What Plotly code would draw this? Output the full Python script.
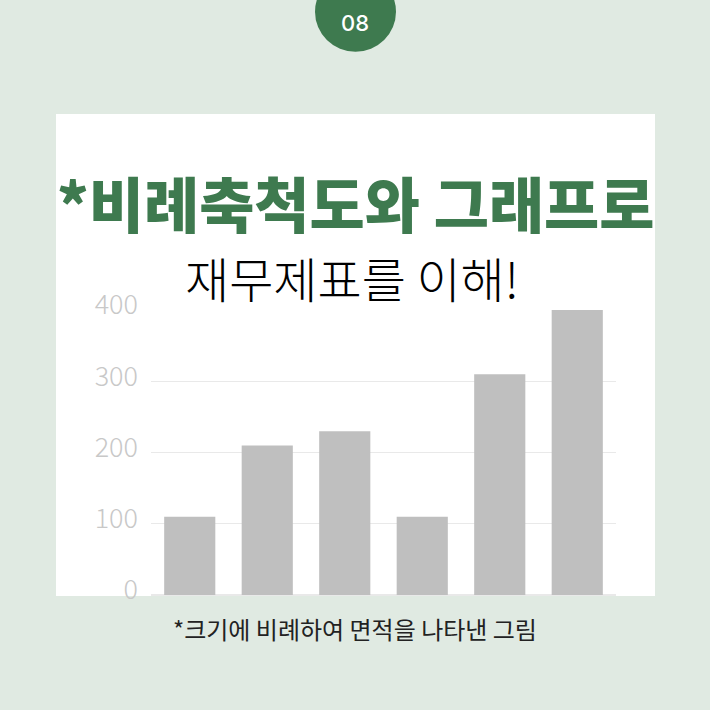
import plotly.graph_objects as go

# bar chart data
categories = ['1', '2', '3', '4', '5', '6']
values = [110, 210, 230, 110, 310, 400]
y_ticks = [0, 100, 200, 300, 400]

title_line1 = '*비례축척도와 그래프로'
title_line2 = '재무제표를 이해!'
caption = '*크기에 비례하여 면적을 나타낸 그림'
badge = '08'

BG = '#e0eae2'
GREEN = '#3e7a4f'
W = H = 710


def px_x(x):
    return x / W


def px_y(y):
    # pixel from top -> paper coordinate
    return (H - y) / H


fig = go.Figure(go.Bar(
    x=categories, y=values,
    marker=dict(color='#bfbfbf', line=dict(width=0)),
    hoverinfo='skip',
))

fig.update_layout(
    width=W, height=H,
    margin=dict(l=0, r=0, t=0, b=0),
    paper_bgcolor=BG,
    plot_bgcolor='rgba(0,0,0,0)',
    bargap=0.34,
    showlegend=False,
    xaxis=dict(domain=[px_x(151), px_x(616)], showticklabels=False, automargin=False,
               showgrid=False, zeroline=False, showline=False, ticks=''),
    yaxis=dict(domain=[px_y(595), px_y(310)], range=[0, 400], automargin=False,
               tickvals=y_ticks, showgrid=True, gridcolor='#e9e9e9', gridwidth=1,
               zeroline=True, zerolinecolor='#e9e9e9', showline=False, ticks='',
               ticklabelstandoff=12, ticklabelshift=-5,
               tickfont=dict(family='Noto Sans CJK KR', size=27, color='#c8c8c8', weight=300)),
)

# white panel and top badge
fig.add_shape(type='rect', xref='paper', yref='paper', layer='below',
              x0=px_x(56), x1=px_x(655), y0=px_y(596), y1=px_y(114),
              fillcolor='white', line=dict(width=0))
fig.add_shape(type='circle', xref='paper', yref='paper',
              x0=px_x(315), x1=px_x(396), y0=px_y(51.7), y1=px_y(-28.3),
              fillcolor=GREEN, line=dict(width=0))

fig.add_annotation(text=badge, xref='paper', yref='paper', x=px_x(355), y=px_y(23),
                   showarrow=False, xanchor='center', yanchor='middle',
                   font=dict(family='Inter', size=22, color='white', weight=500))
fig.add_annotation(text=title_line1, xref='paper', yref='paper', x=px_x(355), y=px_y(202),
                   showarrow=False, xanchor='center', yanchor='middle',
                   font=dict(family='Noto Sans CJK KR', size=60, color=GREEN, weight=900))
fig.add_annotation(text=title_line2, xref='paper', yref='paper', x=px_x(352), y=px_y(277),
                   showarrow=False, xanchor='center', yanchor='middle',
                   font=dict(family='Noto Sans CJK KR', size=48, color='black', weight=300))
fig.add_annotation(text=caption, xref='paper', yref='paper', x=px_x(355), y=px_y(628),
                   showarrow=False, xanchor='center', yanchor='middle',
                   font=dict(family='Noto Sans CJK KR', size=24, color='#222222'))

fig.write_html('out.html', config={'displayModeBar': False},
               post_script="document.body.style.margin='0';document.body.style.overflow='hidden';")
